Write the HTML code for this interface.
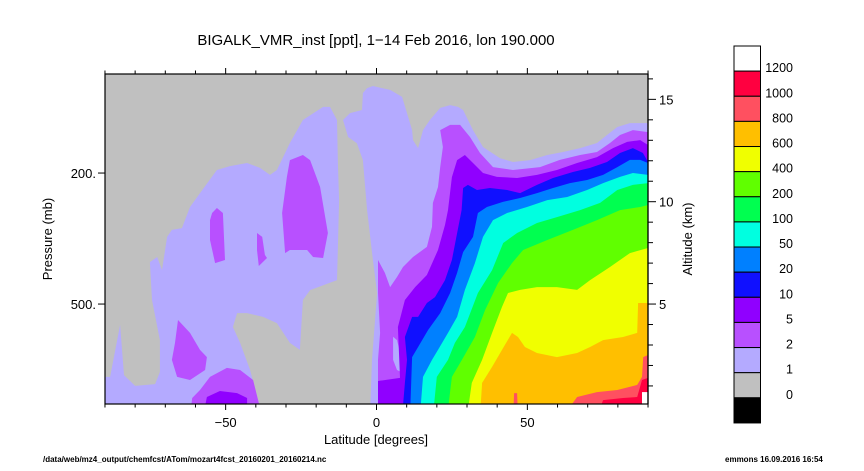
<!DOCTYPE html>
<html><head><meta charset="utf-8"><style>
html,body{margin:0;padding:0;background:#fff;}
svg{display:block;font-family:"Liberation Sans",sans-serif;}
</style></head><body>
<svg id="chart" width="864" height="471" viewBox="0 0 864 471">
<g id="fills"></g>
<g id="axes"></g>
<g id="cbar"></g>
</svg>
<script>
// Contour level labels and colours
const levelLabels = ["0","1","2","5","10","20","50","100","200","400","600","800","1000","1200"];
const levelColors = ["#000000","#c0c0c0","#b4aaff","#b850ff","#9000ff","#1010ff","#0080ff","#00ffe0","#00ff50","#60ff00","#f0ff00","#ffbf00","#ff5060","#ff0040","#ffffff"];
const latTicks = [-50,0,50];
const altTicks = [5,10,15];
const pressureTicks = [{label:"200.",alt:11.4},{label:"500.",alt:5.0}];
// Contour regions: [level index into levelColors, polygon of [lat, alt km]]
const lav1a = [[-90,0],[-90,1.44],[-88.3,1.44],[-85,3.98],[-83.7,1.53],[-80,1.0],[-73.4,1.09],[-71.8,1.68],[-71.8,3.24],[-74.4,5.2],[-75.1,7.05],[-72.7,7.3],[-71.1,6.66],[-69.4,8.28],[-67.8,8.62],[-64.5,8.71],[-61.8,9.74],[-58.5,10.42],[-52.9,11.55],[-48.6,11.74],[-42.9,11.89],[-38.6,11.65],[-35.3,11.31],[-33,11.55],[-28.7,12.87],[-24.4,13.99],[-17.7,14.63],[-15.4,14.63],[-13.1,13.99],[-12.8,11.89],[-12.4,10.08],[-12.8,7.79],[-13.1,6.17],[-22,5.68],[-24.4,5.2],[-25.4,2.76],[-28.7,3.1],[-33,4.07],[-37.6,4.37],[-42.9,4.56],[-46.2,4.56],[-47.6,3.88],[-45.2,3.1],[-41.9,1.78],[-37.9,0]];
const lav1b = [[-2.2,0],[-1.5,2.27],[0.2,5.54],[-1.2,7.15],[-3.1,9.59],[-4.5,12.03],[-6.5,12.86],[-9.4,13.16],[-11.1,13.99],[-8.8,14.33],[-4.8,14.48],[-4.5,15.31],[-3.1,15.55],[-1.2,15.65],[4.5,15.46],[8.5,15.12],[10.1,14.33],[11.8,13.5],[12.1,13.01],[13.8,12.62],[15.4,13.5],[17.7,13.99],[21.1,14.58],[24.4,14.72],[27,14.63],[28.7,14.48],[32,13.5],[35.3,12.67],[40.9,12.13],[45.2,11.94],[50.9,12.03],[56.6,12.28],[61.8,12.43],[67.5,12.62],[73.1,12.87],[76.4,13.26],[79.8,13.65],[84,13.84],[90,13.84],[90,0]];
const pur2r = [[0.5,0],[0.5,2.27],[1.2,3.59],[0.5,5.54],[0.5,7.15],[2.8,6.52],[4.5,5.83],[6.8,6.32],[8.8,6.81],[12.1,7.3],[16.7,7.79],[18.4,8.77],[18.7,9.94],[20.4,10.72],[21.1,11.69],[22,12.67],[21.1,13.5],[24.4,13.75],[27.7,13.75],[31,13.16],[34.3,12.38],[38.6,11.69],[45.2,11.55],[54.2,11.69],[60.8,12.04],[67.5,12.28],[73.1,12.43],[77.4,12.87],[80.7,13.26],[85,13.5],[90,13.4],[90,0]];
const lavHole = [[5.5,3.4],[6.8,3.24],[8.5,2.24],[8.8,1.63],[6.8,1.78],[5.5,2.27]];
const pur2a = [[-54.5,9.45],[-52.9,9.69],[-50.9,9.45],[-50.2,7.15],[-53.5,7.0],[-55.2,8.13],[-55.2,9.1]];
const pur2b = [[-39.6,8.47],[-37.9,8.28],[-37,7.4],[-36.3,7.25],[-39,6.86],[-39.6,7.64]];
const pur2c = [[-28.7,12.03],[-24.4,12.28],[-22,12.03],[-18.7,10.72],[-16.1,8.47],[-17.7,7.25],[-21,7.3],[-23,7.64],[-28.7,7.64],[-30.3,7.49],[-31.3,9.45],[-29.7,11.21]];
const pur2d = [[-65.8,4.22],[-61.8,3.59],[-58.5,2.76],[-56.2,2.41],[-56.8,1.78],[-61.8,1.29],[-66.1,1.44],[-67.8,2.27],[-66.8,3.1]];
const pur2e = [[-61.8,0],[-61.1,0.41],[-58.5,0.8],[-55.2,1.44],[-49.6,1.88],[-45.2,1.78],[-40.9,1.29],[-37.9,0]];
const vio5l = [[-57.5,0],[-56.2,0.46],[-51.9,0.75],[-46.2,0.65],[-42.9,0.41],[-42.9,0]];
const vio5r = [[0.5,0],[0.5,1.24],[7.8,1.39],[7.1,3.88],[9.4,5.2],[12.8,5.83],[16.7,6.42],[20.4,7.64],[22.7,8.86],[23.7,9.59],[25,11.2],[26.7,12.03],[29.3,12.28],[32,11.89],[35.3,11.4],[39.9,11.21],[46.6,11.16],[53.2,11.31],[59.8,11.55],[66.5,11.89],[73.1,12.18],[78.4,12.62],[83.1,12.92],[87.4,13.01],[90,12.77],[90,0]];
const blue10 = [[8.5,0],[9.4,1.15],[10.1,2.27],[9.4,3.39],[11.8,4.37],[13.8,4.37],[16.7,5.05],[19.4,5.34],[22.7,6.17],[25,7.15],[28.2,9.59],[28.7,10.67],[30.3,10.82],[33.3,10.57],[37.6,10.67],[43.3,10.57],[47.6,10.42],[53.2,10.82],[58.5,11.16],[65.1,11.45],[70.8,11.65],[76.4,11.94],[80.7,12.38],[85,12.62],[88.3,12.38],[90,11.94],[90,0]];
const azure20 = [[11.1,0],[11.8,2.41],[13.8,2.9],[17.1,3.73],[21.1,4.56],[24.4,5.54],[26.7,6.52],[28.7,7.54],[32,8.28],[33.6,9.45],[36.6,9.74],[41.9,9.99],[47.6,10.18],[53.2,10.42],[58.5,10.67],[64.1,10.91],[69.8,11.06],[75.1,11.31],[79.8,11.69],[84,12.04],[87.4,12.04],[90,11.89],[90,0]];
const cyan50 = [[14.4,0],[15.4,1.44],[18.4,2.27],[20.4,2.76],[23.7,3.59],[26.7,4.37],[29.3,5.69],[32.6,7.0],[35.3,8.28],[38.6,9.1],[43.3,9.45],[49.9,9.74],[56.6,10.08],[63.2,10.23],[69.8,10.57],[75.1,10.91],[80.7,11.21],[85,11.4],[90,11.31],[90,0]];
const green100 = [[18.7,0],[20,1.44],[23.7,2.27],[26,3.1],[29.3,3.88],[33.6,5.54],[38.3,6.66],[42,7.98],[46.6,8.47],[53.2,8.96],[59.8,9.25],[67.5,9.59],[74.1,9.94],[79.8,10.57],[85,10.82],[90,10.91],[90,0]];
const lime200 = [[23.4,0],[25,1.44],[28.3,2.27],[32.6,3.39],[36,4.71],[40.3,6.03],[44.9,7.0],[48.6,7.64],[56.6,8.13],[65.1,8.62],[73.1,9.1],[80.7,9.59],[87.4,9.74],[90,9.84],[90,0]];
const yellow400 = [[30,0],[31.6,1.15],[35,2.27],[38.3,3.59],[41.6,4.86],[43.6,5.54],[47.6,5.69],[53.2,5.83],[59.8,5.83],[66.5,5.69],[70.8,6.17],[77.4,6.81],[84,7.49],[90,7.74],[90,0]];
const orange600 = [[34.3,0],[35,1.15],[38.3,1.93],[41.6,2.76],[44.9,3.59],[46.9,3.39],[49.2,2.9],[53.2,2.61],[59.8,2.41],[66.5,2.61],[70.8,2.9],[75.1,3.24],[81.7,3.39],[86.4,3.59],[86.7,5.05],[90,5.05],[90,0]];
const salmon800 = [[61.8,0],[66.5,0.46],[73.1,0.7],[79.8,0.8],[86.4,1.05],[88,1.44],[88.4,2.41],[90,2.51],[90,0]];
const salmonSpike = [[45.3,0],[45.6,0.65],[46.6,0.65],[46.9,0]];
const red1000 = [[73.1,0],[75.1,0.31],[81.7,0.41],[86.4,0.46],[88,1.29],[90,1.39],[90,0]];
const white1200 = [[88,0],[88,0.7],[90,0.7],[90,0]];
const regions = [
 [2,lav1a,"region-1ppt-south"],[2,lav1b,"region-1ppt-north"],[3,pur2r,"region-2ppt-north"],[2,lavHole,"region-1ppt-pocket"],
 [3,pur2a,"region-2ppt-blob-a"],[3,pur2b,"region-2ppt-blob-b"],[3,pur2c,"region-2ppt-blob-c"],[3,pur2d,"region-2ppt-blob-d"],[3,pur2e,"region-2ppt-blob-e"],
 [4,vio5l,"region-5ppt-south"],[4,vio5r,"region-5ppt-north"],[5,blue10,"region-10ppt"],[6,azure20,"region-20ppt"],[7,cyan50,"region-50ppt"],
 [8,green100,"region-100ppt"],[9,lime200,"region-200ppt"],[10,yellow400,"region-400ppt"],[11,orange600,"region-600ppt"],
 [12,salmon800,"region-800ppt"],[12,salmonSpike,"region-800ppt-spike"],[13,red1000,"region-1000ppt"],[14,white1200,"region-1200ppt"]
];

const NS="http://www.w3.org/2000/svg";
const X0=105,X1=648,Y0=74,Y1=404;
function xs(lat){return 376.5+lat*3.017;}
function ys(alt){return 406.4-alt*20.47;}
function mk(tag,attrs,parent){const e=document.createElementNS(NS,tag);for(const k in attrs)e.setAttribute(k,attrs[k]);parent.appendChild(e);return e;}
const fills=document.getElementById('fills'),axes=document.getElementById('axes'),cbar=document.getElementById('cbar');
const svg=document.getElementById('chart');
const defs=mk('defs',{},svg);
const cp=mk('clipPath',{id:'plotclip'},defs);
mk('rect',{x:X0,y:Y0,width:X1-X0,height:Y1-Y0},cp);
fills.setAttribute('clip-path','url(#plotclip)');
const bg=mk('rect',{x:X0,y:Y0,width:X1-X0,height:Y1-Y0,fill:levelColors[1]},fills);


regions.forEach(r=>{
  const pts=r[1].map(p=>{const lat=Math.max(-91,Math.min(91,p[0]));const alt=p[1]<=0?-0.5:p[1];return xs(lat).toFixed(1)+','+ys(alt).toFixed(1);}).join(' ');
  const el=mk('polygon',{points:pts,fill:levelColors[r[0]]},fills);
  
  
});
// frame
const fr=mk('rect',{x:X0,y:Y0,width:X1-X0,height:Y1-Y0,fill:'none',stroke:'#000','stroke-width':1.2},axes);


// lat ticks
for(let lat=-90;lat<=90;lat+=10){
  const x=xs(lat);const major=latTicks.includes(lat);const L=major?6:3.5;
  mk('line',{x1:x,y1:Y1,x2:x,y2:Y1+L,stroke:'#000'},axes);
  mk('line',{x1:x,y1:Y0,x2:x,y2:Y0-L,stroke:'#000'},axes);
}
latTicks.forEach(v=>{
  const t=mk('text',{x:xs(v),y:427,'font-size':13,'text-anchor':'middle'},axes);
  t.textContent=(v<0?'\u2212':'')+Math.abs(v);
  
  
});
// altitude ticks
for(let a=1;a<=16;a++){
  const y=ys(a);const major=altTicks.includes(a);
  mk('line',{x1:X1,y1:y,x2:X1+(major?8:5),y2:y,stroke:'#000'},axes);
}
mk('line',{x1:X1,y1:Y0,x2:X1,y2:Y1,stroke:'#000','stroke-width':1.2},axes);
altTicks.forEach(v=>{
  const t=mk('text',{x:659,y:ys(v)+5,'font-size':13},axes);
  t.textContent=v;
  
  
});
pressureTicks.forEach(p=>{
  const y=ys(p.alt);
  mk('line',{x1:X0-7,y1:y,x2:X0,y2:y,stroke:'#000'},axes);
  const t=mk('text',{x:X0-9,y:y+5,'font-size':13,'text-anchor':'end'},axes);
  t.textContent=p.label;
  
  
});
function txt(s,attrs,name){const t=mk('text',attrs,svg);t.textContent=s;return t;}
txt('BIGALK_VMR_inst [ppt], 1\u221214 Feb 2016, lon 190.000',{x:376,y:45,'font-size':15,'text-anchor':'middle'},'chart-title');
txt('Latitude [degrees]',{x:376,y:444,'font-size':13,'text-anchor':'middle'},'x-axis-title');
txt('Pressure (mb)',{x:52,y:239,'font-size':13,'text-anchor':'middle',transform:'rotate(-90 52 239)'},'y-axis-title');
txt('Altitude (km)',{x:692,y:239,'font-size':13,'text-anchor':'middle',transform:'rotate(-90 692 239)'},'right-axis-title');
txt('/data/web/mz4_output/chemfcst/ATom/mozart4fcst_20160201_20160214.nc',{x:43,y:462,'font-size':8,'font-weight':'bold'},'file-path-note');
txt('emmons 16.09.2016 16:54',{x:725,y:462,'font-size':8,'font-weight':'bold'},'timestamp-note');
// colorbar
const CB0=46,CBH=25.13;
for(let i=0;i<levelColors.length;i++){
  const c=levelColors[levelColors.length-1-i];
  const r=mk('rect',{x:734,y:CB0+i*CBH,width:26.5,height:CBH,fill:c,stroke:'#000','stroke-width':1},cbar);
  
  
}
for(let i=0;i<levelLabels.length;i++){
  const lab=levelLabels[levelLabels.length-1-i];
  const t=mk('text',{x:793,y:CB0+(i+1)*CBH+1,'font-size':12.5,'text-anchor':'end'},cbar);
  t.textContent=lab;
  
  
}
</script>
</body></html>
